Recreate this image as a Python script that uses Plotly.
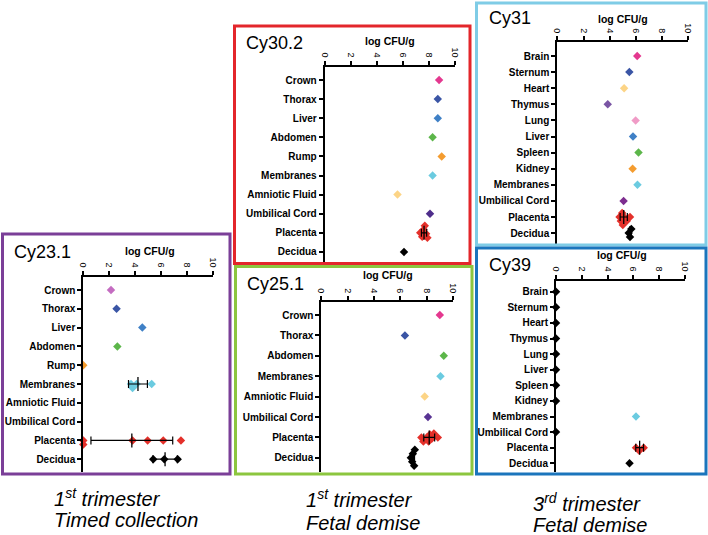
import numpy as np
import plotly.graph_objects as go

W, H = 708, 535
FONT = "Liberation Sans, Arial, sans-serif"

# ---------------- data: log CFU/g per tissue ----------------
cy23_organs = ["Crown", "Thorax", "Liver", "Abdomen", "Rump", "Membranes",
               "Amniotic Fluid", "Umbilical Cord", "Placenta", "Decidua"]
cy23_values = [[2.13], [2.56], [4.54], [2.62], [0.0], [3.67, 4.10, 3.79, 5.26],
               [], [], [0.0, 0.0, 3.79, 4.95, 6.15, 7.51], [5.38, 6.23, 7.26]]

cy30_organs = ["Crown", "Thorax", "Liver", "Abdomen", "Rump", "Membranes",
               "Amniotic Fluid", "Umbilical Cord", "Placenta", "Decidua"]
cy30_values = [[8.8], [8.7], [8.7], [8.3], [9.0], [8.3], [5.6], [8.1],
               [7.35, 7.5, 7.6, 7.7, 7.8, 7.9], [6.1]]

cy25_organs = ["Crown", "Thorax", "Abdomen", "Membranes", "Amniotic Fluid",
               "Umbilical Cord", "Placenta", "Decidua"]
cy25_values = [[9.0], [6.35], [9.3], [9.05], [7.85], [8.1],
               [7.6, 7.75, 8.0, 8.15, 8.25, 8.4, 8.55, 8.85], [6.8, 6.9, 6.95, 7.05, 7.1]]

cy31_organs = ["Brain", "Sternum", "Heart", "Thymus", "Lung", "Liver", "Spleen",
               "Kidney", "Membranes", "Umbilical Cord", "Placenta", "Decidua"]
cy31_values = [[6.1], [5.5], [5.1], [3.85], [5.98], [5.78], [6.2], [5.75], [6.12], [5.06],
               [4.75, 4.85, 4.95, 5.0, 5.1, 5.3, 5.55], [5.45, 5.55, 5.65]]

cy39_organs = ["Brain", "Sternum", "Heart", "Thymus", "Lung", "Liver", "Spleen",
               "Kidney", "Membranes", "Umbilical Cord", "Placenta", "Decidua"]
cy39_values = [[0.0], [0.0], [0.0], [0.0], [0.0], [0.0], [0.0], [0.0], [6.2], [0.0],
               [6.2, 6.45, 6.8], [5.7]]

x_ticks = [0, 2, 4, 6, 8, 10]

captions = [["1<sup>st</sup> trimester", "Timed collection"],
            ["1<sup>st</sup> trimester", "Fetal demise"],
            ["3<sup>rd</sup> trimester", "Fetal demise"]]

# ---------------- styling ----------------
MAG, ORCH, NAVY, BLUE = "#e4388f", "#c46cc1", "#3a55a5", "#3f80c6"
GREEN, ORANGE, CYAN, YEL = "#5cb64a", "#f49c2f", "#6bcbe0", "#fcd486"
INDIGO, PURP, VIOL, PINK = "#4e2d8b", "#7a55a4", "#7d2d8f", "#f09bc6"
RED, BLK = "#e4302a", "#000000"

cy23_colors = [ORCH, NAVY, BLUE, GREEN, ORANGE, CYAN, YEL, INDIGO, RED, BLK]
cy30_colors = [MAG, NAVY, BLUE, GREEN, ORANGE, CYAN, YEL, INDIGO, RED, BLK]
cy25_colors = [MAG, NAVY, GREEN, CYAN, YEL, "#583393", RED, BLK]
cy31_colors = [MAG, NAVY, YEL, PURP, PINK, BLUE, GREEN, ORANGE, CYAN, VIOL, RED, BLK]
cy39_colors = [BLK] * 8 + [CYAN, BLK, RED, BLK]

# pixel geometry: x of 0, x of 10, y of x-axis line, y of first row, row step, bottom y
panels = [
    dict(name="Cy23.1", organs=cy23_organs, values=cy23_values, colors=cy23_colors,
         geo=(83.3, 213.3, 276.7, 290, 18.8, 472), title=(12, 252), lab=(150, 251),
         box=(2.5, 234, 230, 474), boxc="#7b3f98"),
    dict(name="Cy30.2", organs=cy30_organs, values=cy30_values, colors=cy30_colors,
         geo=(324.7, 454.7, 66.7, 80, 19.1, 262), title=(244, 43), lab=(390, 41),
         box=(234.5, 26, 470, 263.5), boxc="#e3262b"),
    dict(name="Cy25.1", organs=cy25_organs, values=cy25_values, colors=cy25_colors,
         geo=(321.3, 453, 302.3, 315, 20.4, 472), title=(245, 284), lab=(388, 275),
         box=(235.5, 266.5, 472, 474), boxc="#8cc63f"),
    dict(name="Cy31", organs=cy31_organs, values=cy31_values, colors=cy31_colors,
         geo=(557.3, 688.3, 42.3, 56, 16.1, 244), title=(487, 18), lab=(623, 19),
         box=(476.5, 3, 706, 245), boxc="#7fcce6"),
    dict(name="Cy39", organs=cy39_organs, values=cy39_values, colors=cy39_colors,
         geo=(556, 685, 280.7, 291.7, 15.6, 472), title=(487, 265), lab=(622, 255),
         box=(476.5, 248, 706, 474), boxc="#1b75bc"),
]


def swarm(vals, xscale, yscale, d=4.0):
    # spread overlapping points vertically (dot-plot style), in category units
    vals = np.asarray(vals, dtype=float)
    offs = np.zeros(len(vals))
    placed = []
    for j in np.argsort(vals):
        px = vals[j] * xscale
        for k in range(40):
            cand = ((k + 1) // 2) * (1 if k % 2 else -1) * 1.0
            if all(np.hypot(px - qx, cand - qy) >= d for qx, qy in placed):
                break
        placed.append((px, cand))
        offs[j] = cand / yscale
    return offs


fig = go.Figure()

for n, p in enumerate(panels, start=1):
    x0, x10, ya, yf, step, yb = p["geo"]
    xscale = (x10 - x0) / 10.0
    xa = "x" if n == 1 else f"x{n}"
    yaxn = "y" if n == 1 else f"y{n}"

    for i, vals in enumerate(p["values"]):
        if not vals:
            continue
        offs = swarm(vals, xscale, step)
        fig.add_trace(go.Scatter(
            x=vals, y=i + offs, mode="markers", xaxis=xa, yaxis=yaxn,
            marker=dict(symbol="diamond", size=6.5, color=p["colors"][i], line=dict(width=0)),
            cliponaxis=False, showlegend=False, hoverinfo="x"))
        if len(vals) > 1:
            # mean line with +/- SD bar
            m = float(np.mean(vals))
            sd = float(np.std(vals, ddof=1))
            fig.add_trace(go.Scatter(
                x=[m], y=[i], mode="markers", xaxis=xa, yaxis=yaxn,
                marker=dict(symbol="line-ns", size=10, color=BLK, line=dict(width=1.3, color=BLK)),
                error_x=dict(type="data", array=[sd], color=BLK, thickness=1.2, width=4),
                cliponaxis=False, showlegend=False, hoverinfo="x"))

    top_idx = (ya - yf) / step
    bot_idx = (yb - yf) / step
    xkey = "xaxis" if n == 1 else f"xaxis{n}"
    ykey = "yaxis" if n == 1 else f"yaxis{n}"
    fig.update_layout(**{
        xkey: dict(domain=[x0 / W, x10 / W], range=[0, 10], side="top", anchor=yaxn,
                   tickvals=x_ticks, ticks="outside", ticklen=4, tickwidth=1.5, tickcolor=BLK,
                   tickangle=90, tickfont=dict(size=9, color=BLK, family=FONT),
                   showline=True, linewidth=2, linecolor=BLK, showgrid=False,
                   zeroline=False, fixedrange=True, automargin=False),
        ykey: dict(domain=[1 - yb / H, 1 - ya / H], range=[bot_idx, top_idx], anchor=xa,
                   tickvals=list(range(len(p["organs"]))), ticktext=p["organs"],
                   ticks="outside", ticklen=4, tickwidth=1.5, tickcolor=BLK,
                   tickfont=dict(size=10, color=BLK, family=FONT, weight="bold"),
                   showline=True, linewidth=2, linecolor=BLK, showgrid=False,
                   zeroline=False, fixedrange=True, automargin=False),
    })

    bx0, by0, bx1, by1 = p["box"]
    fig.add_shape(type="rect", xref="paper", yref="paper",
                  x0=bx0 / W, x1=bx1 / W, y0=1 - by1 / H, y1=1 - by0 / H,
                  line=dict(color=p["boxc"], width=3), layer="above")
    tx, ty = p["title"]
    fig.add_annotation(text=p["name"], xref="paper", yref="paper", x=tx / W, y=1 - ty / H,
                       xanchor="left", yanchor="middle", showarrow=False,
                       font=dict(size=18, color=BLK, family=FONT))
    lx, ly = p["lab"]
    fig.add_annotation(text="<b>log CFU/g</b>", xref="paper", yref="paper", x=lx / W, y=1 - ly / H,
                       xanchor="center", yanchor="middle", showarrow=False,
                       font=dict(size=10.5, color=BLK, family=FONT))

# captions under the columns
cap_pos = [(52, 497, 520), (304, 498, 523), (531, 502, 525)]
for (cx, cy1, cy2), lines in zip(cap_pos, captions):
    for cy, txt in zip((cy1, cy2), lines):
        fig.add_annotation(text=f"<i>{txt}</i>", xref="paper", yref="paper",
                           x=cx / W, y=1 - cy / H, xanchor="left", yanchor="middle",
                           showarrow=False, font=dict(size=20, color=BLK, family=FONT))

fig.update_layout(width=W, height=H, margin=dict(l=0, r=0, t=0, b=0),
                  paper_bgcolor="white", plot_bgcolor="white",
                  font=dict(family=FONT, color=BLK), showlegend=False)

# the page body has a default 8px margin; drop it so the figure fills the window
fig.write_html("out.html", config={"displayModeBar": False},
               post_script="document.body.style.margin = '0';")
